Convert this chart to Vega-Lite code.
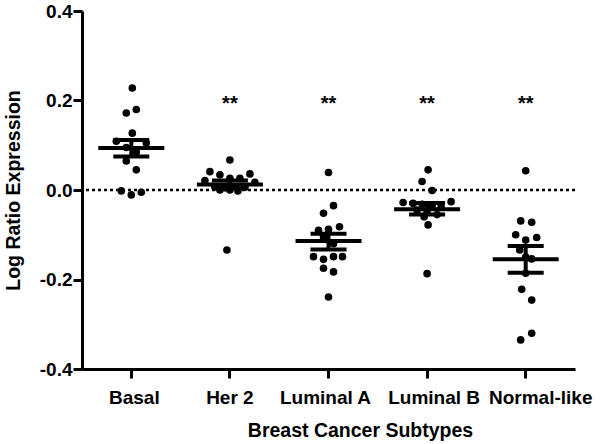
{
  "$schema": "https://vega.github.io/schema/vega-lite/v6.json",
  "autosize": "none",
  "width": 493,
  "height": 358,
  "padding": {"left": 82, "top": 11, "right": 25, "bottom": 75},
  "background": "white",
  "datasets": {
    "points": [
      {"subtype": "Basal", "value": 0.228, "jitter": 1},
      {"subtype": "Basal", "value": 0.180, "jitter": 5},
      {"subtype": "Basal", "value": 0.172, "jitter": -5},
      {"subtype": "Basal", "value": 0.127, "jitter": 1},
      {"subtype": "Basal", "value": 0.109, "jitter": -15},
      {"subtype": "Basal", "value": 0.105, "jitter": 15},
      {"subtype": "Basal", "value": 0.095, "jitter": -5},
      {"subtype": "Basal", "value": 0.085, "jitter": 5},
      {"subtype": "Basal", "value": 0.065, "jitter": -5},
      {"subtype": "Basal", "value": 0.045, "jitter": 5},
      {"subtype": "Basal", "value": -0.002, "jitter": -10},
      {"subtype": "Basal", "value": -0.011, "jitter": 0},
      {"subtype": "Basal", "value": -0.005, "jitter": 10},
      {"subtype": "Her 2", "value": 0.067, "jitter": 0},
      {"subtype": "Her 2", "value": 0.041, "jitter": -20},
      {"subtype": "Her 2", "value": 0.034, "jitter": -10},
      {"subtype": "Her 2", "value": 0.036, "jitter": 20},
      {"subtype": "Her 2", "value": 0.026, "jitter": 0},
      {"subtype": "Her 2", "value": 0.026, "jitter": 10},
      {"subtype": "Her 2", "value": 0.021, "jitter": -25},
      {"subtype": "Her 2", "value": 0.017, "jitter": 25},
      {"subtype": "Her 2", "value": 0.007, "jitter": -15},
      {"subtype": "Her 2", "value": 0.005, "jitter": -5},
      {"subtype": "Her 2", "value": 0.007, "jitter": 5},
      {"subtype": "Her 2", "value": 0.006, "jitter": 15},
      {"subtype": "Her 2", "value": 0.000, "jitter": -10},
      {"subtype": "Her 2", "value": 0.000, "jitter": 0},
      {"subtype": "Her 2", "value": -0.002, "jitter": 8},
      {"subtype": "Her 2", "value": -0.134, "jitter": -3},
      {"subtype": "Luminal A", "value": 0.039, "jitter": 0},
      {"subtype": "Luminal A", "value": -0.035, "jitter": 5},
      {"subtype": "Luminal A", "value": -0.052, "jitter": -5},
      {"subtype": "Luminal A", "value": -0.090, "jitter": -10},
      {"subtype": "Luminal A", "value": -0.088, "jitter": 0},
      {"subtype": "Luminal A", "value": -0.082, "jitter": 11},
      {"subtype": "Luminal A", "value": -0.105, "jitter": -5},
      {"subtype": "Luminal A", "value": -0.120, "jitter": 5},
      {"subtype": "Luminal A", "value": -0.149, "jitter": -15},
      {"subtype": "Luminal A", "value": -0.155, "jitter": -5},
      {"subtype": "Luminal A", "value": -0.149, "jitter": 5},
      {"subtype": "Luminal A", "value": -0.149, "jitter": 14},
      {"subtype": "Luminal A", "value": -0.175, "jitter": -5},
      {"subtype": "Luminal A", "value": -0.183, "jitter": 5},
      {"subtype": "Luminal A", "value": -0.239, "jitter": 0},
      {"subtype": "Luminal B", "value": 0.045, "jitter": 1},
      {"subtype": "Luminal B", "value": 0.019, "jitter": -5},
      {"subtype": "Luminal B", "value": -0.001, "jitter": 5},
      {"subtype": "Luminal B", "value": -0.026, "jitter": 24},
      {"subtype": "Luminal B", "value": -0.028, "jitter": -24},
      {"subtype": "Luminal B", "value": -0.030, "jitter": -14},
      {"subtype": "Luminal B", "value": -0.032, "jitter": -5},
      {"subtype": "Luminal B", "value": -0.035, "jitter": 5},
      {"subtype": "Luminal B", "value": -0.038, "jitter": 14},
      {"subtype": "Luminal B", "value": -0.045, "jitter": -10},
      {"subtype": "Luminal B", "value": -0.050, "jitter": 0},
      {"subtype": "Luminal B", "value": -0.055, "jitter": 10},
      {"subtype": "Luminal B", "value": -0.060, "jitter": -3},
      {"subtype": "Luminal B", "value": -0.078, "jitter": 1},
      {"subtype": "Luminal B", "value": -0.187, "jitter": 0},
      {"subtype": "Normal-like", "value": 0.043, "jitter": 0},
      {"subtype": "Normal-like", "value": -0.069, "jitter": -5},
      {"subtype": "Normal-like", "value": -0.072, "jitter": 6},
      {"subtype": "Normal-like", "value": -0.100, "jitter": -10},
      {"subtype": "Normal-like", "value": -0.106, "jitter": 11},
      {"subtype": "Normal-like", "value": -0.112, "jitter": 0},
      {"subtype": "Normal-like", "value": -0.134, "jitter": -6},
      {"subtype": "Normal-like", "value": -0.150, "jitter": 0},
      {"subtype": "Normal-like", "value": -0.154, "jitter": 6},
      {"subtype": "Normal-like", "value": -0.186, "jitter": 0},
      {"subtype": "Normal-like", "value": -0.222, "jitter": -4},
      {"subtype": "Normal-like", "value": -0.246, "jitter": 6},
      {"subtype": "Normal-like", "value": -0.320, "jitter": 6},
      {"subtype": "Normal-like", "value": -0.335, "jitter": -5}
    ],
    "summary": [
      {"subtype": "Basal", "mean": 0.094, "lo": 0.075, "hi": 0.112, "sig": ""},
      {"subtype": "Her 2", "mean": 0.0125, "lo": 0.004, "hi": 0.021, "sig": "**"},
      {"subtype": "Luminal A", "mean": -0.114, "lo": -0.133, "hi": -0.098, "sig": "**"},
      {"subtype": "Luminal B", "mean": -0.043, "lo": -0.055, "hi": -0.029, "sig": "**"},
      {"subtype": "Normal-like", "mean": -0.155, "lo": -0.185, "hi": -0.125, "sig": "**"}
    ]
  },
  "encoding": {
    "x": {
      "field": "subtype",
      "type": "nominal",
      "sort": ["Basal", "Her 2", "Luminal A", "Luminal B", "Normal-like"],
      "scale": {"paddingInner": 0, "paddingOuter": 0},
      "axis": {
        "title": "Breast Cancer Subtypes",
        "labelAngle": 0,
        "labelPadding": 10,
        "titlePadding": 14,
        "titleX": 278,
        "labelOffset": {
          "condition": [
            {"test": "datum.value === 'Normal-like'", "value": 15},
            {"test": "datum.value === 'Luminal B'", "value": 7},
            {"test": "datum.value === 'Luminal A'", "value": -3},
            {"test": "datum.value === 'Basal'", "value": 3}
          ],
          "value": 0
        }
      }
    }
  },
  "layer": [
    {
      "data": {"values": [{}]},
      "mark": {"type": "rule", "strokeDash": [3, 3], "strokeWidth": 2.5, "color": "black"},
      "encoding": {"x": null, "y": {"datum": 0, "type": "quantitative"}}
    },
    {
      "data": {"name": "points"},
      "mark": {"type": "circle", "size": 58, "opacity": 1, "color": "black"},
      "encoding": {
        "xOffset": {"field": "jitter", "type": "quantitative", "scale": {"domain": [-49.3, 49.3]}},
        "y": {
          "field": "value",
          "type": "quantitative",
          "scale": {"domain": [-0.4, 0.4], "nice": false, "zero": false},
          "axis": {
            "title": "Log Ratio Expression",
            "values": [-0.4, -0.2, 0, 0.2, 0.4],
            "format": ".1f",
            "labelExpr": "replace(datum.label, '\u2212', '-')",
            "labelPadding": 1,
            "titlePadding": 16
          }
        }
      }
    },
    {
      "data": {"name": "summary"},
      "mark": {"type": "tick", "size": 66, "thickness": 4, "color": "black", "opacity": 1},
      "encoding": {"y": {"field": "mean", "type": "quantitative"}}
    },
    {
      "data": {"name": "summary"},
      "mark": {"type": "rule", "strokeWidth": 4, "color": "black"},
      "encoding": {"y": {"field": "lo", "type": "quantitative"}, "y2": {"field": "hi"}}
    },
    {
      "data": {"name": "summary"},
      "mark": {"type": "tick", "size": 36, "thickness": 4, "color": "black", "opacity": 1},
      "encoding": {"y": {"field": "lo", "type": "quantitative"}}
    },
    {
      "data": {"name": "summary"},
      "mark": {"type": "tick", "size": 36, "thickness": 4, "color": "black", "opacity": 1},
      "encoding": {"y": {"field": "hi", "type": "quantitative"}}
    },
    {
      "data": {"name": "summary"},
      "mark": {"type": "text", "font": "Liberation Sans", "fontWeight": "bold", "fontSize": 20, "baseline": "alphabetic", "align": "center", "color": "black"},
      "encoding": {"y": {"datum": 0.178, "type": "quantitative"}, "text": {"field": "sig"}}
    }
  ],
  "config": {
    "view": {"stroke": null},
    "axis": {
      "grid": false,
      "domainColor": "black",
      "domainWidth": 3,
      "tickColor": "black",
      "tickWidth": 3,
      "tickSize": 9,
      "labelFont": "Liberation Sans",
      "labelFontWeight": "bold",
      "labelFontSize": 19,
      "labelColor": "black",
      "titleFont": "Liberation Sans",
      "titleFontWeight": "bold",
      "titleFontSize": 19.5,
      "titleColor": "black"
    }
  }
}
